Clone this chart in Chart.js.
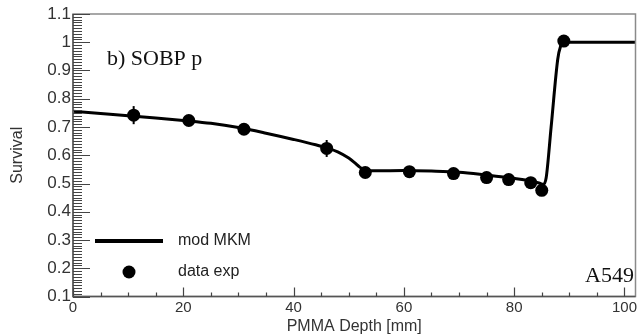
<!DOCTYPE html>
<html>
<head>
<meta charset="utf-8">
<script src="https://cdn.jsdelivr.net/npm/chart.js@4"></script>
<style>
  html, body { margin: 0; padding: 0; background: #fff; }
  canvas { display: block; }
</style>
</head>
<body>
<canvas id="c" width="642" height="335"></canvas>
<script>
// model curve (mod MKM)
const curveX = [0, 5, 10, 15, 20, 25, 30, 35, 40, 44, 46, 48, 50, 51, 52, 53, 55, 60, 65, 70, 75, 79, 83, 84.5, 85.3, 85.8, 86.7, 87.9, 88.4, 89, 95, 102];
const curveY = [0.756, 0.748, 0.740, 0.732, 0.723, 0.713, 0.698, 0.678, 0.656, 0.637, 0.626, 0.612, 0.590, 0.575, 0.558, 0.547, 0.545, 0.546, 0.544, 0.540, 0.530, 0.521, 0.509, 0.502, 0.497, 0.52, 0.70, 0.94, 0.985, 1.0, 1.0, 1.0];

// measured points (data exp)
const dataX = [11, 21, 31, 46, 53, 61, 69, 75, 79, 83, 85, 89];
const dataY = [0.742, 0.723, 0.692, 0.624, 0.539, 0.542, 0.535, 0.521, 0.514, 0.503, 0.476, 1.004];
const dataErr = [0.032, 0.012, 0.012, 0.030, 0.012, 0.012, 0.012, 0.012, 0.012, 0.012, 0.012, 0.012];

const xTicks = [0, 20, 40, 60, 80, 100];
const yTicks = [0.1, 0.2, 0.3, 0.4, 0.5, 0.6, 0.7, 0.8, 0.9, 1.0, 1.1];

const SANS = "'Liberation Sans', Arial, sans-serif";
const SERIF = "'Liberation Serif', 'Times New Roman', serif";

const rootStyle = {
  id: "rootStyle",
  beforeDatasetsDraw(chart) {
    const { ctx, scales: { x, y } } = chart;
    // error bars
    ctx.save();
    ctx.strokeStyle = "#000";
    ctx.lineWidth = 2;
    dataX.forEach((v, i) => {
      const px = x.getPixelForValue(v);
      ctx.beginPath();
      ctx.moveTo(px, y.getPixelForValue(dataY[i] - dataErr[i]));
      ctx.lineTo(px, y.getPixelForValue(dataY[i] + dataErr[i]));
      ctx.stroke();
    });
    ctx.restore();
  },
  afterDraw(chart) {
    const { ctx, chartArea: a, scales: { x, y } } = chart;
    ctx.save();

    // frame
    ctx.strokeStyle = "#8a8a8a";
    ctx.lineWidth = 1.5;
    ctx.strokeRect(a.left, a.top, a.right - a.left, a.bottom - a.top);
    ctx.strokeStyle = "#555";
    ctx.beginPath();
    ctx.moveTo(a.left, a.top);
    ctx.lineTo(a.left, a.bottom);
    ctx.lineTo(a.right, a.bottom);
    ctx.stroke();

    // inward ticks
    ctx.lineWidth = 1.2;
    ctx.strokeStyle = "#444";
    ctx.beginPath();
    for (let v = 0; v <= 100; v += 5) {
      const px = Math.round(x.getPixelForValue(v)) + 0.5;
      const len = v % 20 === 0 ? 9 : 4;
      ctx.moveTo(px, a.bottom);
      ctx.lineTo(px, a.bottom - len);
    }
    for (let k = 10; k <= 110; k++) {
      const py = Math.round(y.getPixelForValue(k / 100)) + 0.5;
      const len = k % 10 === 0 ? 17 : 9;
      ctx.moveTo(a.left, py);
      ctx.lineTo(a.left + len, py);
    }
    ctx.stroke();

    // legend
    const line = chart.data.datasets[0];
    const pts = chart.data.datasets[1];
    ctx.strokeStyle = line.borderColor;
    ctx.lineWidth = 4;
    ctx.beginPath();
    ctx.moveTo(a.left + 22, 241);
    ctx.lineTo(a.left + 90, 241);
    ctx.stroke();
    ctx.fillStyle = pts.backgroundColor;
    ctx.beginPath();
    ctx.arc(a.left + 56, 272, 6.5, 0, Math.PI * 2);
    ctx.fill();
    ctx.fillStyle = "#222";
    ctx.font = "16px " + SANS;
    ctx.textBaseline = "middle";
    ctx.textAlign = "left";
    ctx.fillText(line.label, a.left + 105, 241);
    ctx.fillText(pts.label, a.left + 105, 272);

    // panel labels
    ctx.fillStyle = "#111";
    ctx.font = "22px " + SERIF;
    ctx.textBaseline = "alphabetic";
    ctx.fillText("b) SOBP p", 107, 65);
    ctx.textAlign = "right";
    ctx.fillText("A549", 634, 282);
    ctx.restore();
  }
};

new Chart(document.getElementById("c"), {
  type: "scatter",
  data: {
    datasets: [
      {
        label: "mod MKM",
        data: curveX.map((v, i) => ({ x: v, y: curveY[i] })),
        showLine: true,
        borderColor: "#000",
        borderWidth: 3,
        pointRadius: 0,
        cubicInterpolationMode: "monotone",
        order: 2
      },
      {
        label: "data exp",
        data: dataX.map((v, i) => ({ x: v, y: dataY[i] })),
        backgroundColor: "#000",
        borderColor: "#000",
        pointRadius: 6.5,
        pointBorderWidth: 0,
        order: 1
      }
    ]
  },
  options: {
    responsive: false,
    animation: false,
    devicePixelRatio: 1,
    layout: { padding: { top: 14, right: 2, left: 0, bottom: 0 } },
    plugins: { legend: { display: false }, tooltip: { enabled: false } },
    scales: {
      x: {
        type: "linear",
        min: 0,
        max: 102,
        afterBuildTicks: s => { s.ticks = xTicks.map(v => ({ value: v })); },
        afterFit: s => { s.height = 38.5; },
        grid: { display: false, drawTicks: false },
        border: { display: false },
        ticks: {
          autoSkip: false,
          maxRotation: 0,
          padding: 2,
          color: "#333",
          font: { family: SANS, size: 15 },
          callback: v => String(v)
        },
        title: {
          display: true,
          text: "PMMA Depth [mm]",
          color: "#333",
          font: { family: SANS, size: 16, lineHeight: 1 },
          padding: { top: 0, bottom: 0 }
        }
      },
      y: {
        type: "linear",
        min: 0.1,
        max: 1.1,
        afterBuildTicks: s => { s.ticks = yTicks.map(v => ({ value: v })); },
        afterFit: s => { s.width = 73; },
        grid: { display: false, drawTicks: false },
        border: { display: false },
        ticks: {
          autoSkip: false,
          padding: 2,
          color: "#333",
          font: { family: SANS, size: 17 },
          callback: v => String(Math.round(v * 10) / 10)
        },
        title: {
          display: true,
          text: "Survival",
          color: "#333",
          font: { family: SANS, size: 16, lineHeight: 1 },
          padding: { top: 10, bottom: 0 }
        }
      }
    }
  },
  plugins: [rootStyle]
});
</script>
</body>
</html>
